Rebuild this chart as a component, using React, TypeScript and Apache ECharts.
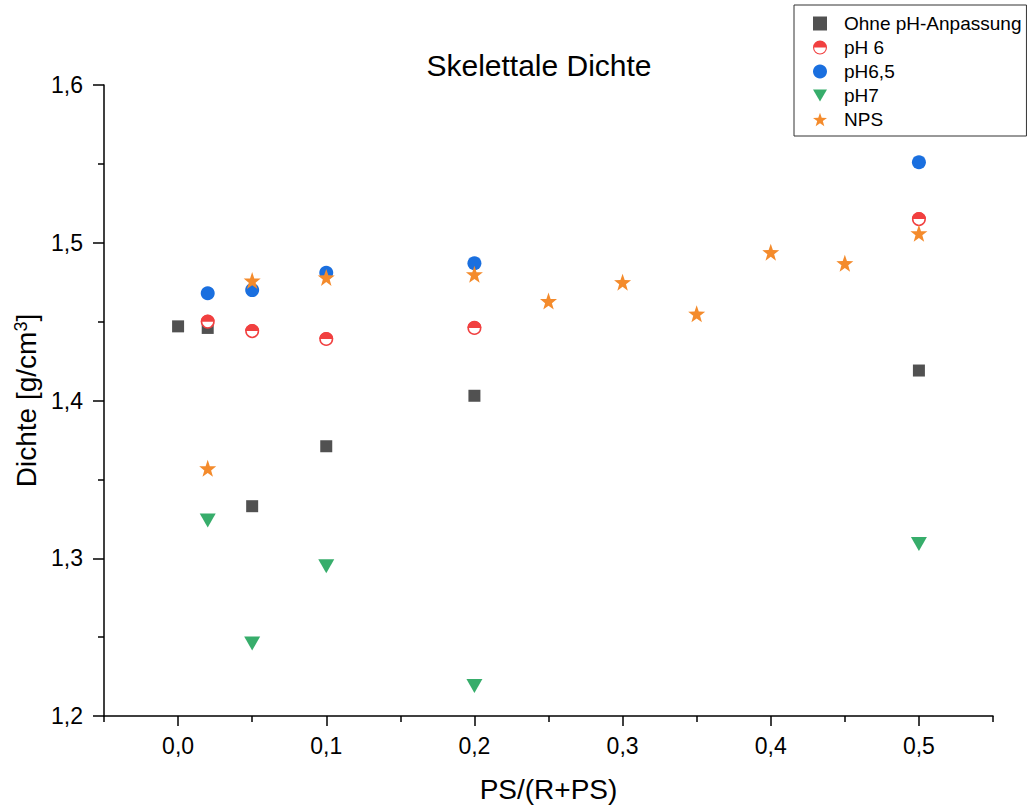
import React, { useEffect, useRef } from "react";
import * as echarts from "echarts";

const FONT = "'Liberation Sans', Arial, sans-serif";

// Data
const xOhne = [0, 0.02, 0.05, 0.1, 0.2, 0.5];
const yOhne = [1.447, 1.446, 1.333, 1.371, 1.403, 1.419];

const xPH6 = [0.02, 0.05, 0.1, 0.2, 0.5];
const yPH6 = [1.450, 1.444, 1.439, 1.446, 1.515];

const xPH65 = [0.02, 0.05, 0.1, 0.2, 0.5];
const yPH65 = [1.468, 1.470, 1.481, 1.487, 1.551];

const xPH7 = [0.02, 0.05, 0.1, 0.2, 0.5];
const yPH7 = [1.324, 1.246, 1.295, 1.219, 1.309];

const xNPS = [0.02, 0.05, 0.1, 0.2, 0.25, 0.3, 0.35, 0.4, 0.45, 0.5];
const yNPS = [1.357, 1.476, 1.478, 1.480, 1.463, 1.475, 1.455, 1.494, 1.487, 1.506];

const xMajorTicks = [0, 0.1, 0.2, 0.3, 0.4, 0.5];
const xMinorTicks = [-0.05, 0.05, 0.15, 0.25, 0.35, 0.45, 0.55];

const seriesNames = ["Ohne pH-Anpassung", "pH 6", "pH6,5", "pH7", "NPS"];

const COLORS = {
  ohne: "#515151",
  ph6: "#F14040",
  ph65: "#1A6FDF",
  ph7: "#37AD6B",
  nps: "#F48B2C",
};

const STAR =
  "path://M50,0 L61.76,33.82 L97.55,34.55 L69.02,56.18 L79.39,90.45 L50,70 L20.61,90.45 L30.98,56.18 L2.45,34.55 L38.24,33.82 Z";
const TRI_DOWN = "path://M0,0 L20,0 L10,17 Z";
const HALF_TOP = "path://M0,10 A10,10 0 0,1 20,10 Z";
const HALF_ICON =
  "path://M0,10 A10,10 0 1,1 20,10 A10,10 0 1,1 0,10 Z M18.4,10 L1.6,10 A8.4,8.4 0 0,0 18.4,10 Z";

const pairs = (xs: number[], ys: number[]) => xs.map((x, i) => [x, ys[i]]);
const fmt = (v: number) => v.toFixed(1).replace(".", ",");

export default function App() {
  const ref = useRef<HTMLDivElement>(null);
  useEffect(() => {
    if (!ref.current) return;
    const chart = echarts.init(ref.current, null, { renderer: "svg" });
    const axisLine = { show: true, onZero: false, lineStyle: { color: "#000", width: 1.5 } };
    chart.setOption({
      animation: false,
      backgroundColor: "#fff",
      grid: { left: 104, right: 36, top: 85, bottom: 93 },
      graphic: [
        {
          type: "text",
          x: 539,
          y: 50,
          style: {
            text: "Skelettale Dichte",
            fontSize: 30,
            fontFamily: FONT,
            fill: "#000",
            align: "center",
            verticalAlign: "top",
          },
        },
      ],
      legend: {
        orient: "vertical",
        left: 794,
        top: 5,
        padding: [9, 5, 7, 19],
        itemWidth: 14,
        itemHeight: 14,
        itemGap: 5,
        borderColor: "#333",
        borderWidth: 1,
        textStyle: { fontSize: 19, fontFamily: FONT, color: "#000", padding: [0, 0, 0, 12] },
        data: [
          { name: seriesNames[0], icon: "rect", itemStyle: { color: COLORS.ohne } },
          { name: seriesNames[1], icon: HALF_ICON, itemStyle: { color: COLORS.ph6, borderWidth: 0 } },
          { name: seriesNames[2], icon: "circle", itemStyle: { color: COLORS.ph65 } },
          { name: seriesNames[3], icon: TRI_DOWN, itemStyle: { color: COLORS.ph7 } },
          { name: seriesNames[4], icon: STAR, itemStyle: { color: COLORS.nps } },
        ],
      },
      xAxis: [
        {
          type: "value",
          min: -0.05,
          max: 0.55,
          position: "bottom",
          axisLine,
          splitLine: { show: false },
          axisTick: {
            show: true,
            inside: false,
            length: 10,
            customValues: xMajorTicks,
            lineStyle: { color: "#000", width: 1.5 },
          },
          axisLabel: {
            customValues: xMajorTicks,
            formatter: (v: number) => fmt(v),
            fontSize: 23,
            fontFamily: FONT,
            color: "#000",
            margin: 18,
          },
          name: "PS/(R+PS)",
          nameLocation: "middle",
          nameGap: 59,
          nameTextStyle: { fontSize: 28, fontFamily: FONT, color: "#000", verticalAlign: "top" },
        },
        {
          type: "value",
          min: -0.05,
          max: 0.55,
          position: "bottom",
          axisLine: { show: false, onZero: false },
          splitLine: { show: false },
          axisTick: {
            show: true,
            inside: false,
            length: 6,
            customValues: xMinorTicks,
            lineStyle: { color: "#000", width: 1.5 },
          },
          axisLabel: { show: false },
        },
      ],
      yAxis: {
        type: "value",
        min: 1.2,
        max: 1.6,
        interval: 0.1,
        position: "left",
        axisLine,
        splitLine: { show: false },
        axisTick: { show: true, inside: false, length: 11, lineStyle: { color: "#000", width: 1.5 } },
        minorTick: { show: true, splitNumber: 2, length: 6, lineStyle: { color: "#000", width: 1.5 } },
        axisLabel: {
          formatter: (v: number) => fmt(v),
          fontSize: 23,
          fontFamily: FONT,
          color: "#000",
          margin: 21,
        },
        name: "Dichte [g/cm{sup|3}]",
        nameLocation: "middle",
        nameGap: 63,
        nameTextStyle: {
          fontSize: 28,
          fontFamily: FONT,
          color: "#000",
          rich: {
            sup: { fontSize: 18, fontFamily: FONT, color: "#000", verticalAlign: "top", padding: [0, 0, 8, 0] },
          },
        },
      },
      series: [
        {
          name: seriesNames[0],
          type: "scatter",
          xAxisIndex: 0,
          symbol: "rect",
          symbolSize: 12,
          itemStyle: { color: COLORS.ohne, opacity: 1 },
          data: pairs(xOhne, yOhne),
        },
        {
          name: seriesNames[1],
          type: "scatter",
          xAxisIndex: 0,
          symbol: "circle",
          symbolSize: 12.5,
          itemStyle: { color: "#fff", borderColor: COLORS.ph6, borderWidth: 1.5, opacity: 1 },
          data: pairs(xPH6, yPH6),
        },
        {
          name: seriesNames[1],
          type: "scatter",
          xAxisIndex: 0,
          symbol: HALF_TOP,
          symbolSize: [14, 7],
          symbolOffset: [0, -3.5],
          itemStyle: { color: COLORS.ph6, opacity: 1 },
          data: pairs(xPH6, yPH6),
        },
        {
          name: seriesNames[2],
          type: "scatter",
          xAxisIndex: 0,
          symbol: "circle",
          symbolSize: 14,
          itemStyle: { color: COLORS.ph65, opacity: 1 },
          data: pairs(xPH65, yPH65),
        },
        {
          name: seriesNames[3],
          type: "scatter",
          xAxisIndex: 0,
          symbol: TRI_DOWN,
          symbolSize: [16, 14],
          itemStyle: { color: COLORS.ph7, opacity: 1 },
          data: pairs(xPH7, yPH7),
        },
        {
          name: seriesNames[4],
          type: "scatter",
          xAxisIndex: 0,
          symbol: STAR,
          symbolSize: 17,
          itemStyle: { color: COLORS.nps, opacity: 1 },
          data: pairs(xNPS, yNPS),
        },
      ],
    });
    return () => chart.dispose();
  }, []);
  return (
    <div
      ref={ref}
      style={{ position: "fixed", left: 0, top: 0, width: 1029, height: 809, background: "#fff" }}
    />
  );
}
